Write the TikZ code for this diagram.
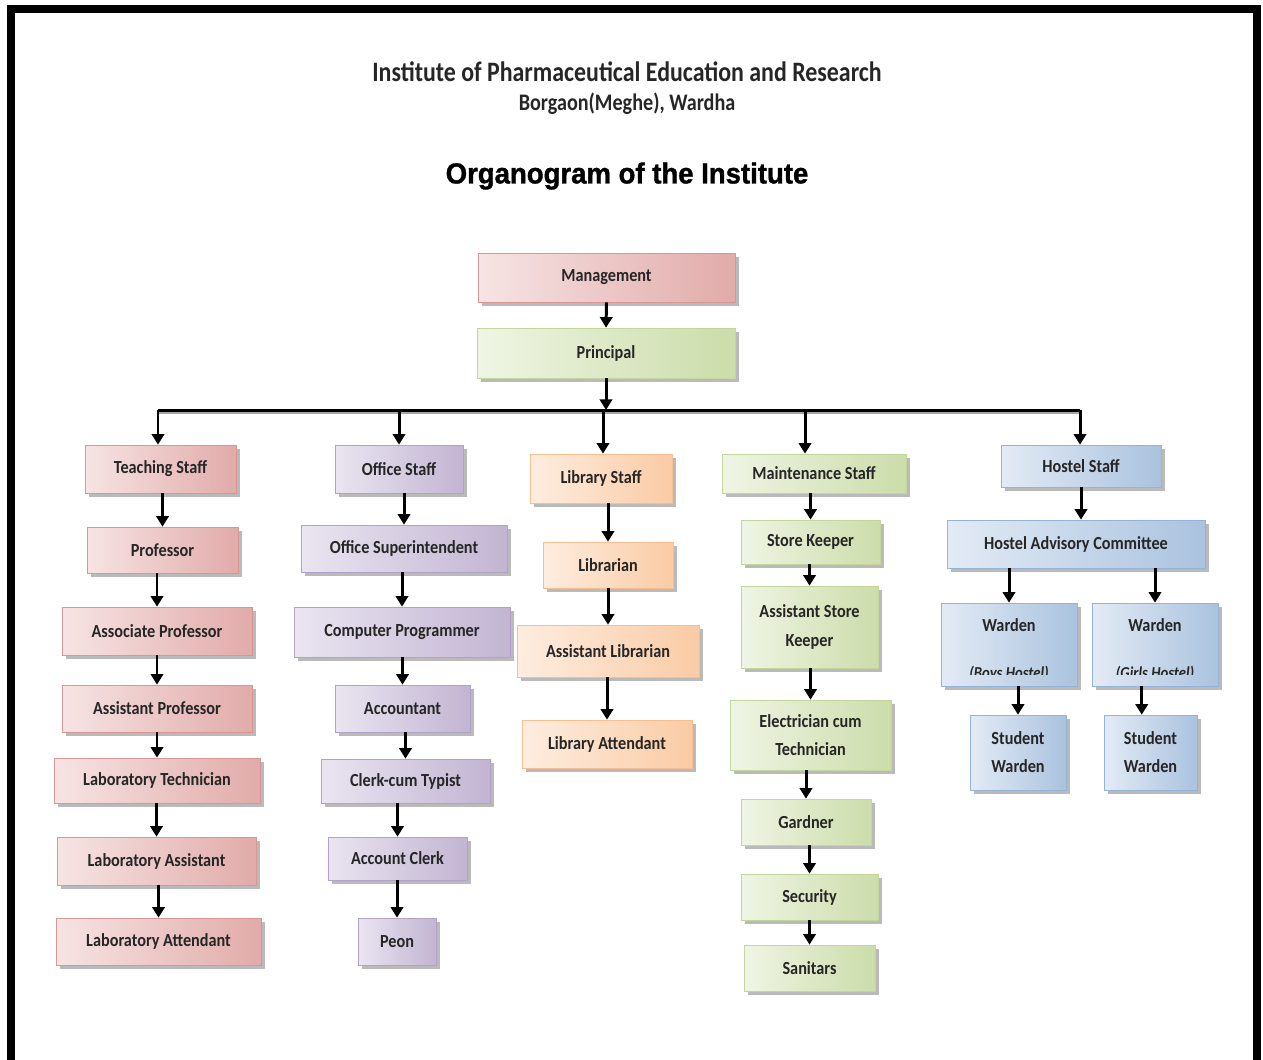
\documentclass[tikz,border=0pt]{standalone}
\usepackage{fontspec}
\setmainfont{Carlito}
\newfontfamily\lab{Carlito}[FakeStretch=0.88]
\newfontfamily\ttlab{Carlito}[FakeStretch=0.85]
\newfontfamily\ttl{Liberation Sans}[FakeStretch=0.95,FakeBold=1.2]
\usetikzlibrary{arrows.meta,shadows}
\definecolor{rD}{HTML}{D99694}\definecolor{rL}{HTML}{F7E4E4}
\definecolor{gD}{HTML}{C3D69B}\definecolor{gL}{HTML}{EFF5E4}
\definecolor{pD}{HTML}{B3A2C7}\definecolor{pL}{HTML}{EAE5F1}
\definecolor{oD}{HTML}{F9BE8E}\definecolor{oL}{HTML}{FEEDE0}
\definecolor{bD}{HTML}{95B3D7}\definecolor{bL}{HTML}{E3EBF5}
\tikzset{
 box/.style={rectangle, inner sep=2pt, align=center,
   font=\lab\bfseries\fontsize{10.5}{16}\selectfont, text=black!85,
   drop shadow={shadow xshift=2pt, shadow yshift=-2pt, fill=black!45, opacity=0.6}},
 redbox/.style={box, draw=rD, left color=rL, right color=rD!80},
 greenbox/.style={box, draw=gD, left color=gL, right color=gD!85},
 purplebox/.style={box, draw=pD, left color=pL, right color=pD!80},
 orangebox/.style={box, draw=oD, left color=oL, right color=oD!80},
 bluebox/.style={box, draw=bD, left color=bL, right color=bD!80},
 arr/.style={line width=1.7pt, -{Triangle[length=6pt,width=7pt]}},
 bus/.style={line width=1.7pt},
 lbl/.style={font=\lab\bfseries\fontsize{10.5}{16}\selectfont, text=black!85, inner sep=1pt},
}
\newcommand\bx[7]{\node[#2, minimum width={(#5-#3)*0.02cm}, minimum height={(#6-#4)*0.02cm}] (#1) at ({(#3+#5)/2},{(#4+#6)/2}) {#7};}
\begin{document}
\begin{tikzpicture}[x=0.02cm,y=-0.02cm]
\useasboundingbox (0,0) rectangle (1263,1059);
\draw[line width=4.5pt] (11,9) rectangle (1257,1064);

% titles
\node[font=\ttlab\bfseries\fontsize{16}{18}\selectfont, text=black!85] (t1) at (627,72) {Institute of Pharmaceutical Education and Research};
\node[font=\ttlab\bfseries\fontsize{13.5}{16}\selectfont, text=black!85] (t2) at (627,104) {Borgaon(Meghe), Wardha};
\node[font=\ttl\bfseries\fontsize{16.5}{18}\selectfont] (t3) at (627,176) {Organogram of the Institute};

% top
\bx{mg}{redbox}{478}{253}{735}{302}{Management}
\bx{pr}{greenbox}{477}{328}{735}{378}{Principal}

% heads
\bx{ts}{redbox}{85}{445}{236}{493}{Teaching Staff}
\bx{os}{purplebox}{335}{445}{463}{493}{Office Staff}
\bx{ls}{orangebox}{530}{454}{672}{503}{Library Staff}
\bx{ms}{greenbox}{722}{454}{906}{493}{Maintenance Staff}
\bx{hs}{bluebox}{1001}{445}{1161}{487}{Hostel Staff}

% teaching
\bx{prof}{redbox}{87}{527}{238}{573}{Professor}
\bx{ap}{redbox}{62}{607}{252}{655}{Associate Professor}
\bx{asp}{redbox}{62}{685}{252}{732}{Assistant Professor}
\bx{lt}{redbox}{54}{758}{260}{803}{Laboratory Technician}
\bx{la}{redbox}{57}{837}{256}{885}{Laboratory Assistant}
\bx{lat}{redbox}{56}{918}{261}{965}{Laboratory Attendant}

% office
\bx{osu}{purplebox}{301}{525}{507}{572}{Office Superintendent}
\bx{cp}{purplebox}{294}{607}{510}{657}{Computer Programmer}
\bx{acc}{purplebox}{335}{685}{470}{732}{Accountant}
\bx{ct}{purplebox}{321}{759}{490}{803}{Clerk-cum Typist}
\bx{ac}{purplebox}{328}{837}{467}{880}{Account Clerk}
\bx{peon}{purplebox}{358}{918}{436}{965}{Peon}

% library
\bx{lib}{orangebox}{543}{542}{673}{588}{Librarian}
\bx{alib}{orangebox}{517}{625}{699}{677}{Assistant Librarian}
\bx{latt}{orangebox}{522}{720}{692}{768}{Library Attendant}

% maintenance
\bx{sk}{greenbox}{741}{520}{880}{564}{Store Keeper}
\bx{ask}{greenbox}{741}{586}{878}{668}{Assistant Store\\Keeper}
\bx{ect}{greenbox}{730}{700}{891}{770}{Electrician cum\\Technician}
\bx{gd}{greenbox}{741}{799}{871}{845}{Gardner}
\bx{sec}{greenbox}{741}{874}{878}{920}{Security}
\bx{san}{greenbox}{744}{945}{875}{991}{Sanitars}

% hostel
\bx{hac}{bluebox}{947}{520}{1205}{568}{Hostel Advisory Committee}
\bx{wb}{bluebox}{941}{603}{1077}{686}{}
\bx{wg}{bluebox}{1092}{603}{1218}{686}{}
\node[lbl] (wbt) at (1009,625) {Warden};
\node[lbl] (wgt) at (1155,625) {Warden};
\begin{scope}
\clip (941,600) rectangle (1218,674);
\node[lbl, font=\lab\bfseries\itshape\fontsize{9.5}{12}\selectfont] (wbs) at (1009,674) {(Boys Hostel)};
\node[lbl, font=\lab\bfseries\itshape\fontsize{9.5}{12}\selectfont] (wgs) at (1155,674) {(Girls Hostel)};
\end{scope}
\bx{sw1}{bluebox}{970}{715}{1066}{790}{Student\\Warden}
\bx{sw2}{bluebox}{1104}{715}{1197}{790}{Student\\Warden}

% connectors
\draw[arr] (mg.south) -- (pr.north);
\coordinate (busL) at (158,410);
\coordinate (busR) at (1080,410);
\coordinate (bm) at (805,410);
\coordinate (bl) at (603,410);
\draw[bus, black!35] ([yshift=-1.5pt]busL) -- ([yshift=-1.5pt]busR);
\draw[bus] (busL) -- (busR);
\draw[arr] (pr.south) -- (pr.south |- busL);
\draw[arr] (busL) -- (busL |- ts.north);
\draw[arr] (os.north |- busL) -- (os.north);
\draw[arr] (bl) -- (bl |- ls.north);
\draw[arr] (bm) -- (bm |- ms.north);
\draw[arr] (busR) -- (busR |- hs.north);

\foreach \a/\b in {ts/prof,prof/ap,ap/asp,asp/lt,lt/la,la/lat,
  os/osu,osu/cp,cp/acc,acc/ct,ct/ac,ac/peon,
  ls/lib,lib/alib,alib/latt,
  ms/sk,sk/ask,ask/ect,ect/gd,gd/sec,sec/san}
  \draw[arr] (\b.north |- \a.south) -- (\b.north);
\draw[arr] (hs.south) -- (hs.south |- hac.north);
\draw[arr] (wb.north |- hac.south) -- (wb.north);
\draw[arr] (wg.north |- hac.south) -- (wg.north);
\draw[arr] (sw1.north |- wb.south) -- (sw1.north);
\draw[arr] ([xshift=-5pt]sw2.north |- wg.south) -- ([xshift=-5pt]sw2.north);
\end{tikzpicture}
\end{document}
